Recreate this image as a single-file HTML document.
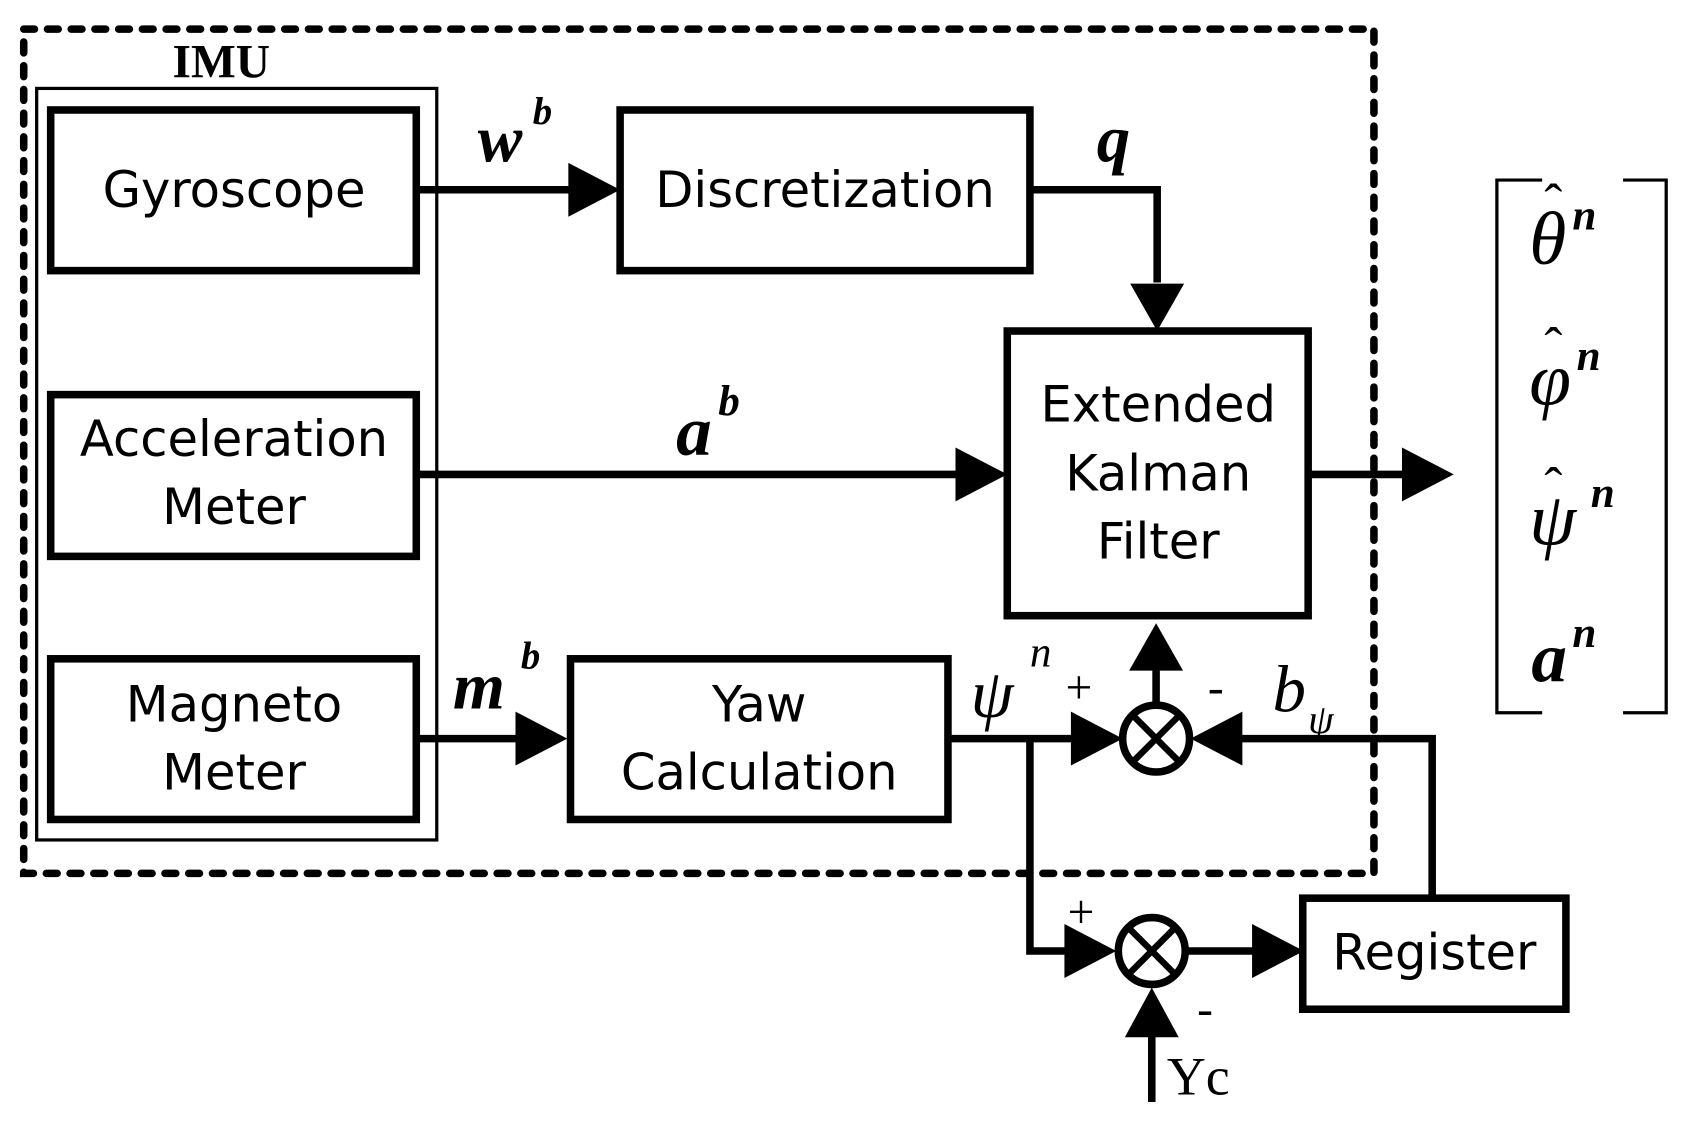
<!DOCTYPE html>
<html><head><style>html,body{margin:0;padding:0;background:#fff}svg{display:block}</style></head>
<body>
<svg width="1691" height="1130" viewBox="0 0 1568 1048" preserveAspectRatio="none" xmlns="http://www.w3.org/2000/svg">
<g fill="none" stroke="#000" stroke-width="7">
<rect x="22" y="27" width="1252" height="783" stroke-dasharray="10,12" stroke-linecap="round"/>
<rect x="34" y="82" width="371" height="697" stroke-width="3"/>
<rect x="47" y="102" width="339" height="149"/>
<rect x="47" y="366" width="339" height="150"/>
<rect x="47" y="611" width="339" height="149"/>
<rect x="575" y="102" width="380" height="149"/>
<rect x="934" y="307" width="279" height="264"/>
<rect x="529" y="611" width="350" height="149"/>
<rect x="1208" y="833" width="244" height="103"/>
<circle cx="1072" cy="685" r="31"/>
<circle cx="1068" cy="882" r="31"/>
<path d="M1050,663 L1094,707 M1094,663 L1050,707 M1046,860 L1090,904 M1090,860 L1046,904" stroke-width="6"/>
<path d="M386,176 H530 M955,176 H1073 V262 M386,440 H890 M1213,440 H1300 M386,685 H482 M879,685 H995 M955,685 V882 H991 M1328,833 V685 H1148 M1072,654 V620 M1100,882 H1163 M1068,1022 V960"/>
</g>
<g>
<path d="M527,151 L575,176 L527,201Z M1048,263 L1073,307 L1098,263Z M886,415 L934,440 L886,465Z M1300,415 L1348,440 L1300,465Z M478,660 L526,685 L478,710Z M993,660 L1041,685 L993,710Z M1152,660 L1104,685 L1152,710Z M1047,622 L1072,578 L1097,622Z M987,857 L1035,882 L987,907Z M1161,857 L1209,882 L1161,907Z M1043,962 L1068,916 L1093,962Z"/>
</g>
<path d="M1430,167 H1388 V661 H1430 M1505,167 H1545 V661 H1505" fill="none" stroke="#000" stroke-width="3"/>
<g font-family="'DejaVu Sans','Liberation Sans',sans-serif" font-size="46" text-anchor="middle" fill="#000">
<text x="217" y="192">Gyroscope</text>
<text x="217" y="423">Acceleration</text>
<text x="217" y="486">Meter</text>
<text x="217" y="669">Magneto</text>
<text x="217" y="732">Meter</text>
<text x="765" y="192">Discretization</text>
<text x="1074" y="391">Extended</text>
<text x="1074" y="455">Kalman</text>
<text x="1074" y="518">Filter</text>
<text x="704" y="669">Yaw</text>
<text x="704" y="732">Calculation</text>
<text x="1330" y="899">Register</text>
</g>
<g font-family="'Liberation Serif',serif" font-weight="bold" font-style="italic" fill="#000">
<text x="443" y="150" font-size="62">w</text><text x="494" y="115" font-size="36">b</text>
<text x="1017" y="150" font-size="62">q</text>
<text x="627" y="422" font-size="66">a</text><text x="666" y="385" font-size="40">b</text>
<text x="420" y="657" font-size="62">m</text><text x="483" y="620" font-size="36">b</text>
<text x="1420" y="632" font-size="66">a</text><text x="1458" y="600" font-size="40">n</text>
<text x="1458" y="213" font-size="40">n</text>
<text x="1462" y="343" font-size="40">n</text>
<text x="1475" y="470" font-size="40">n</text>
</g>
<g font-family="'Liberation Serif',serif" font-style="italic" fill="#000">
<text x="1418" y="245" font-size="70">θ</text>
<text x="1418" y="375" font-size="70">φ</text>
<text x="1418" y="505" font-size="70">ψ</text>
<text x="1432" y="205" font-size="50" font-style="normal">ˆ</text>
<text x="1432" y="338" font-size="50" font-style="normal">ˆ</text>
<text x="1432" y="468" font-size="50" font-style="normal">ˆ</text>
</g>
<g font-family="'Liberation Serif',serif" font-size="50" fill="#000">
<text x="900" y="665" font-style="italic" font-size="64">ψ</text><text x="955" y="618" font-style="italic" font-size="40">n</text>
<text x="1180" y="660" font-style="italic" font-size="62">b</text><text x="1213" y="680" font-style="italic" font-size="38">ψ</text>
<text x="988" y="652" font-size="44">+</text><text x="1120" y="652" font-size="44">-</text>
<text x="990" y="860" font-size="44">+</text><text x="1110" y="950" font-size="44">-</text>
<text x="1082" y="1015" font-size="50">Yc</text>
<text x="160" y="72" font-size="44" font-weight="bold">IMU</text>
</g>
</svg>
</body></html>
